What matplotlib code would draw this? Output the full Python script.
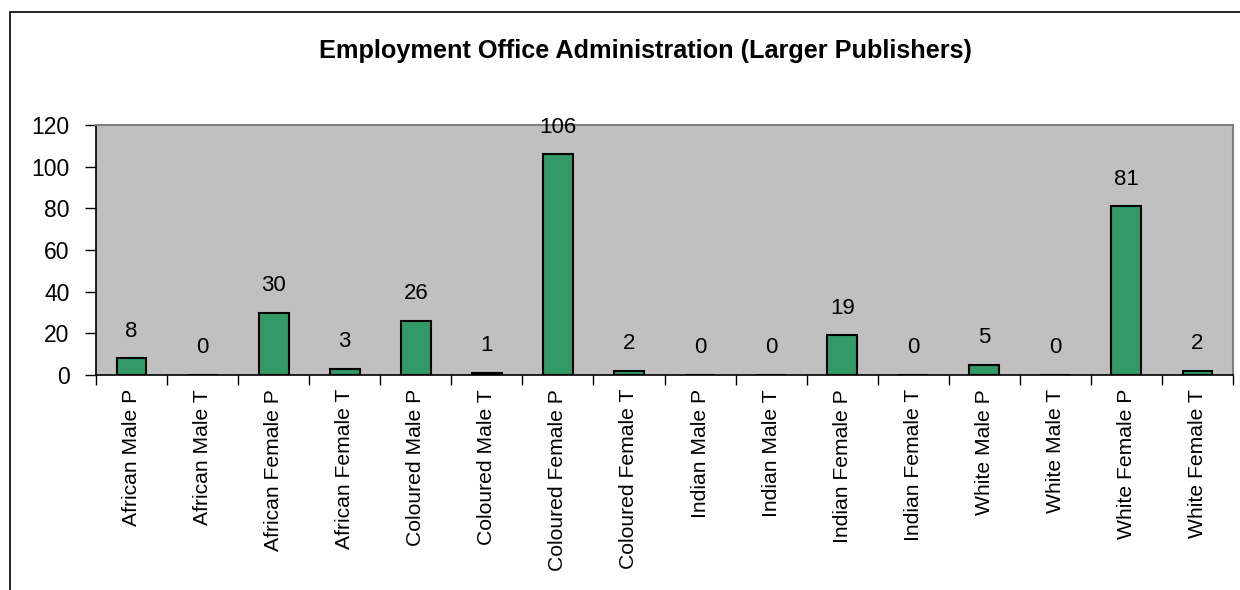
import matplotlib.pyplot as plt
import matplotlib.patches as mpatches
import numpy as np

plt.rcParams['font.family'] = ['Liberation Sans', 'DejaVu Sans']

categories = ["African Male P", "African Male T", "African Female P", "African Female T",
              "Coloured Male P", "Coloured Male T", "Coloured Female P", "Coloured Female T",
              "Indian Male P", "Indian Male T", "Indian Female P", "Indian Female T",
              "White Male P", "White Male T", "White Female P", "White Female T"]
values = [8, 0, 30, 3, 26, 1, 106, 2, 0, 0, 19, 0, 5, 0, 81, 2]
y_ticks = [0, 20, 40, 60, 80, 100, 120]

fig = plt.figure(figsize=(12.4, 5.9), dpi=100)
ax = fig.add_axes([96 / 1240, 1 - 375 / 590, (1233 - 96) / 1240, (375 - 125) / 590])

x = np.arange(len(categories))
ax.bar(x, values, width=0.42, color="#339966", edgecolor="black", linewidth=1.5, zorder=3)

# etiquetas de valor sobre cada barra
for i, v in enumerate(values):
    ax.text(i, v + 13, str(v), ha="center", va="center", fontsize=16)

ax.set_facecolor("#C0C0C0")
ax.set_xlim(-0.5, len(categories) - 0.5)
ax.set_ylim(0, 120)
ax.set_yticks(y_ticks)
ax.tick_params(axis="y", direction="out", length=8, width=1, labelsize=16.5, pad=11)

# marcas del eje x entre categorias
ax.set_xticks(np.arange(len(categories) + 1) - 0.5)
ax.set_xticklabels([])
ax.tick_params(axis="x", direction="out", length=7, width=1)
ax.set_xticks(x, minor=True)
ax.set_xticklabels(categories, minor=True, rotation=90, fontsize=15.2)
ax.tick_params(axis="x", which="minor", length=0, pad=10)

for side in ["top", "right"]:
    ax.spines[side].set_color("#808080")
    ax.spines[side].set_linewidth(1.5)
for side in ["left", "bottom"]:
    ax.spines[side].set_color("black")
    ax.spines[side].set_linewidth(1.2)

fig.text(645 / 1240, 1 - 51 / 590, "Employment Office Administration (Larger Publishers)",
         ha="center", va="center", fontsize=18.2, fontweight="bold")

# marco exterior del grafico
frame = mpatches.Rectangle((10 / 1240, -0.1), 1.2, 1 - 12 / 590 + 0.1,
                           transform=fig.transFigure, fill=False,
                           edgecolor="black", linewidth=1.2, clip_on=False)
fig.patches.append(frame)

fig.savefig("out.png", dpi=100)
